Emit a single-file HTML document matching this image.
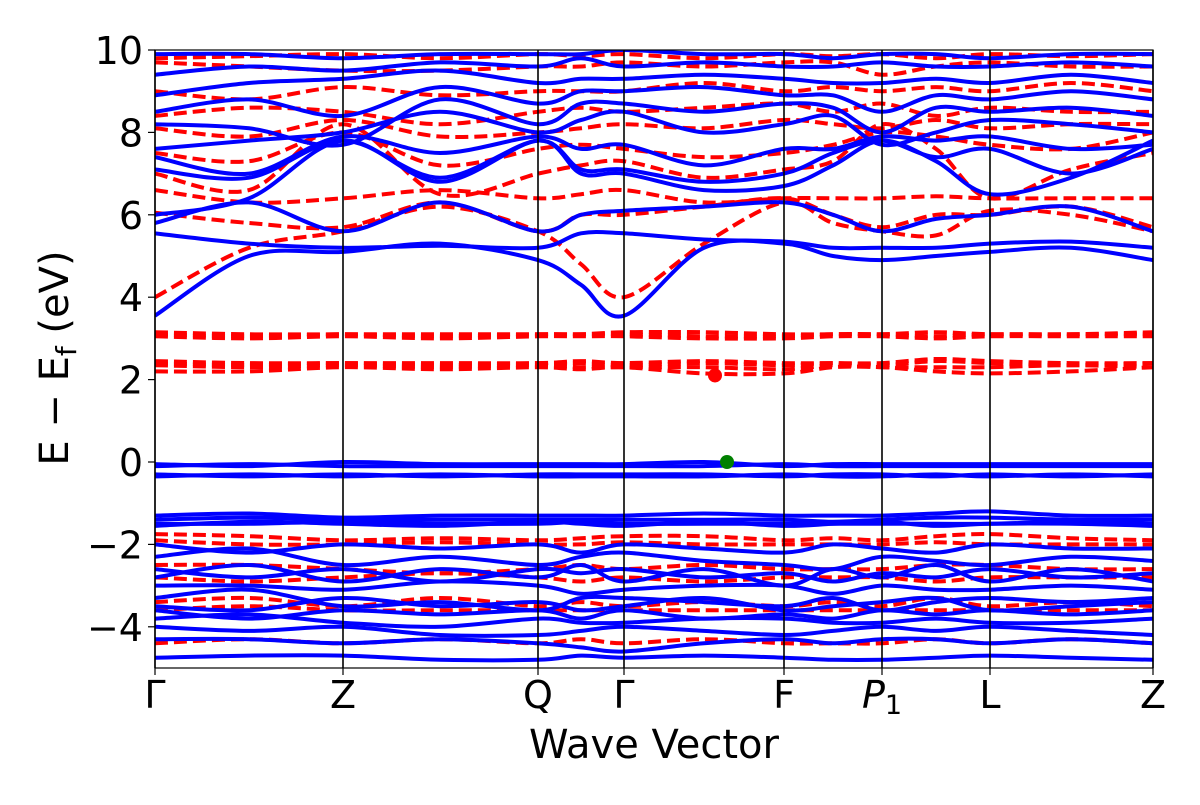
<!DOCTYPE html>
<html><head><meta charset="utf-8"><style>
body{margin:0;background:#fff;}
svg text{font-family:"DejaVu Sans","Liberation Sans",sans-serif;}
</style></head><body>
<svg id="chart" width="1200" height="800" viewBox="0 0 1200 800" xmlns="http://www.w3.org/2000/svg">
<defs><clipPath id="clip"><rect x="155" y="50" width="998" height="618"/></clipPath></defs>
<rect width="1200" height="800" fill="#fff"/>
<g id="bands" clip-path="url(#clip)"></g>
<g id="vlines"></g>
<rect x="155" y="50" width="998" height="618" fill="none" stroke="#000" stroke-width="1.2"/>
<g id="axes"></g>
<text x="654" y="758" font-size="40" text-anchor="middle">Wave Vector</text>
<text transform="translate(68,358) rotate(-90)" font-size="40" text-anchor="middle">E − E<tspan font-size="28" dy="8">f</tspan><tspan dy="-8"> (eV)</tspan></text>
</svg>
<script>
const kLabels=["Γ","Z","Q","Γ","F","P1","L","Z"];
const kTicks=[0,188,383,469,629,727,835,998];
const yTicks=[10,8,6,4,2,0,-2,-4];
const sampleK=[0,94,188,285,383,426,469,549,629,678,727,781,835,916,998];
const blueBands=[
[3.55,5.0,5.1,5.3,4.9,4.3,3.55,5.2,5.3,5.0,4.9,5.0,5.1,5.2,4.9],
[5.55,5.3,5.2,5.25,5.2,5.55,5.55,5.4,5.35,5.2,5.2,5.2,5.3,5.35,5.2],
[5.8,6.3,5.6,6.3,5.6,6.0,6.1,6.2,6.3,6.0,5.6,5.9,6.0,6.2,5.6],
[6.0,6.4,7.8,6.8,7.8,7.0,7.0,6.6,6.7,7.2,7.8,7.3,6.5,6.9,7.8],
[7.1,6.9,7.8,6.9,7.8,7.1,7.1,6.8,7.0,7.5,7.8,7.4,7.6,7.0,7.6],
[7.4,7.0,7.9,7.5,7.9,7.6,7.7,7.2,7.6,7.6,7.9,7.8,7.9,7.6,7.7],
[7.6,7.8,8.0,8.5,8.0,8.3,8.5,8.0,8.2,8.4,7.7,8.0,8.3,8.2,8.0],
[8.2,8.1,7.7,8.8,8.2,8.7,8.7,8.5,8.7,8.6,8.0,8.6,8.5,8.6,8.4],
[8.5,8.8,8.4,9.1,8.7,9.0,9.0,9.1,8.9,8.9,8.5,8.9,8.8,9.0,8.8],
[8.9,9.2,9.3,9.5,9.2,9.3,9.3,9.4,9.3,9.2,9.2,9.3,9.2,9.4,9.2],
[9.4,9.6,9.5,9.7,9.6,9.8,9.6,9.7,9.6,9.6,9.7,9.6,9.6,9.7,9.6],
[9.9,9.9,9.8,9.9,9.9,9.9,10,9.9,9.9,9.8,9.9,9.9,9.8,9.9,9.9],
[-0.05,-0.1,0.0,-0.05,-0.05,-0.05,-0.05,0.0,-0.1,-0.05,-0.05,-0.05,-0.05,-0.05,-0.05],
[-0.1,-0.05,-0.1,-0.1,-0.1,-0.1,-0.1,-0.1,-0.05,-0.1,-0.1,-0.1,-0.1,-0.1,-0.1],
[-0.3,-0.35,-0.3,-0.35,-0.3,-0.3,-0.3,-0.3,-0.35,-0.3,-0.3,-0.35,-0.3,-0.35,-0.3],
[-0.35,-0.3,-0.35,-0.3,-0.35,-0.35,-0.35,-0.35,-0.3,-0.35,-0.35,-0.3,-0.35,-0.3,-0.35],
[-1.3,-1.25,-1.35,-1.3,-1.3,-1.3,-1.3,-1.25,-1.3,-1.3,-1.3,-1.25,-1.2,-1.3,-1.3],
[-1.4,-1.35,-1.4,-1.4,-1.4,-1.4,-1.4,-1.4,-1.4,-1.45,-1.4,-1.35,-1.35,-1.4,-1.4],
[-1.5,-1.5,-1.45,-1.5,-1.5,-1.45,-1.5,-1.5,-1.5,-1.5,-1.5,-1.5,-1.5,-1.45,-1.5],
[-1.55,-1.45,-1.5,-1.55,-1.45,-1.5,-1.55,-1.45,-1.55,-1.5,-1.45,-1.55,-1.5,-1.5,-1.55],
[-2.0,-2.2,-2.0,-2.1,-2.0,-2.2,-2.0,-2.1,-2.2,-2.0,-2.1,-2.2,-2.0,-2.1,-2.1],
[-2.3,-2.1,-2.5,-2.3,-2.5,-2.3,-2.2,-2.4,-2.5,-2.6,-2.3,-2.4,-2.5,-2.3,-2.4],
[-2.6,-2.8,-2.6,-2.9,-2.6,-2.7,-2.6,-2.8,-2.7,-2.9,-2.7,-2.8,-2.6,-2.8,-2.7],
[-2.8,-2.5,-2.9,-2.6,-2.8,-2.5,-2.9,-2.6,-3.0,-2.6,-2.8,-2.5,-2.9,-2.6,-2.9],
[-3.0,-3.0,-3.1,-2.9,-3.0,-3.2,-3.1,-3.0,-3.0,-3.2,-3.0,-3.1,-3.1,-3.0,-3.1],
[-3.3,-3.1,-3.5,-3.4,-3.6,-3.3,-3.3,-3.4,-3.5,-3.3,-3.6,-3.4,-3.3,-3.4,-3.3],
[-3.5,-3.6,-3.3,-3.5,-3.4,-3.6,-3.5,-3.3,-3.6,-3.5,-3.4,-3.3,-3.6,-3.5,-3.4],
[-3.6,-3.8,-3.6,-3.7,-3.6,-3.8,-3.6,-3.8,-3.7,-3.8,-3.6,-3.7,-3.6,-3.7,-3.6],
[-3.8,-3.7,-3.9,-4.0,-3.8,-3.9,-3.9,-3.8,-3.8,-3.9,-3.9,-3.8,-3.9,-3.9,-3.8],
[-4.0,-4.1,-4.0,-4.2,-4.2,-4.1,-4.0,-4.1,-4.2,-4.1,-4.0,-4.1,-4.0,-4.1,-4.2],
[-4.3,-4.3,-4.4,-4.3,-4.4,-4.5,-4.6,-4.4,-4.3,-4.4,-4.3,-4.3,-4.4,-4.3,-4.4],
[-4.75,-4.7,-4.7,-4.8,-4.8,-4.7,-4.75,-4.7,-4.75,-4.8,-4.8,-4.75,-4.7,-4.75,-4.8]
];
const redBands=[
[4.0,5.2,5.6,6.2,5.6,4.8,4.0,5.3,6.3,5.8,5.6,5.5,6.1,6.0,5.6],
[6.05,5.8,5.7,6.3,5.6,6.0,6.0,6.2,6.4,6.0,5.7,6.0,6.0,6.2,5.7],
[6.6,6.3,6.4,6.6,6.4,6.5,6.6,6.3,6.4,6.4,6.4,6.45,6.4,6.4,6.4],
[7.0,6.6,8.2,6.5,7.0,7.2,7.3,6.9,7.1,7.3,8.2,7.6,6.4,7.1,7.5],
[7.5,7.3,8.0,7.2,7.6,7.7,7.6,7.4,7.5,7.7,8.0,7.9,7.7,7.6,8.0],
[8.1,7.9,8.3,7.9,8.0,8.1,8.2,8.1,8.3,8.2,8.1,8.3,8.1,8.2,8.2],
[8.4,8.6,8.5,8.2,8.5,8.6,8.5,8.6,8.7,8.5,8.7,8.4,8.6,8.5,8.5],
[9.0,8.8,9.1,8.9,9.0,9.0,9.0,9.2,9.0,9.1,9.0,9.1,9.0,9.2,9.0],
[9.7,9.6,9.5,9.5,9.6,9.6,9.7,9.6,9.7,9.7,9.4,9.6,9.7,9.6,9.6],
[9.8,9.85,9.9,9.8,9.9,9.85,9.9,9.8,9.9,9.85,9.9,9.8,9.9,9.85,9.9],
[3.15,3.1,3.1,3.1,3.1,3.1,3.15,3.15,3.1,3.1,3.1,3.15,3.1,3.1,3.15],
[3.1,3.05,3.1,3.05,3.1,3.1,3.1,3.05,3.05,3.1,3.1,3.05,3.1,3.1,3.1],
[3.05,3.0,3.05,3.0,3.05,3.05,3.05,3.0,3.0,3.05,3.05,3.0,3.05,3.05,3.05],
[2.45,2.4,2.4,2.4,2.4,2.45,2.4,2.45,2.4,2.4,2.4,2.5,2.45,2.4,2.4],
[2.4,2.35,2.4,2.35,2.4,2.4,2.35,2.4,2.35,2.4,2.35,2.45,2.4,2.35,2.4],
[2.35,2.3,2.35,2.3,2.35,2.3,2.3,2.3,2.25,2.35,2.3,2.3,2.3,2.35,2.3],
[2.2,2.2,2.3,2.25,2.3,2.25,2.3,2.15,2.15,2.3,2.3,2.2,2.15,2.2,2.3],
[-1.75,-1.8,-1.9,-1.85,-1.9,-1.85,-1.8,-1.8,-1.9,-1.85,-1.9,-1.8,-1.75,-1.85,-1.9],
[-1.9,-2.0,-2.0,-1.95,-2.0,-2.0,-1.95,-2.0,-2.0,-2.0,-2.0,-1.95,-2.0,-2.0,-2.0],
[-2.5,-2.5,-2.6,-2.7,-2.6,-2.5,-2.6,-2.5,-2.6,-2.6,-2.6,-2.5,-2.5,-2.6,-2.6],
[-2.8,-2.9,-2.8,-2.7,-2.8,-2.9,-2.8,-2.9,-2.8,-2.8,-2.8,-2.9,-2.8,-2.8,-2.8],
[-3.4,-3.3,-3.5,-3.3,-3.5,-3.4,-3.5,-3.4,-3.5,-3.4,-3.5,-3.3,-3.5,-3.4,-3.5],
[-3.6,-3.5,-3.6,-3.6,-3.6,-3.6,-3.6,-3.6,-3.6,-3.6,-3.6,-3.6,-3.6,-3.6,-3.6],
[-4.4,-4.3,-4.4,-4.3,-4.4,-4.3,-4.4,-4.3,-4.4,-4.4,-4.4,-4.3,-4.4,-4.3,-4.4]
];
const cbmPoint=[560,2.1];
const vbmPoint=[572,0.0];

const NS="http://www.w3.org/2000/svg";
const X0=155,X1=1153,Y0=50,Y1=668,KMAX=998,EMIN=-5,EMAX=10;
function xs(k){return X0+(X1-X0)*k/KMAX;}
function ys(e){return Y1-(Y1-Y0)*(e-EMIN)/(EMAX-EMIN);}
function mk(tag,attrs,parent){const el=document.createElementNS(NS,tag);for(const a in attrs)el.setAttribute(a,attrs[a]);parent.appendChild(el);return el;}
function pathFor(vals){
  const p=vals.map((v,i)=>[xs(sampleK[i]),ys(v)]);
  let d="M"+p[0][0].toFixed(1)+","+p[0][1].toFixed(1);
  for(let i=0;i<p.length-1;i++){
    const p0=p[Math.max(0,i-1)],p1=p[i],p2=p[i+1],p3=p[Math.min(p.length-1,i+2)];
    const c1x=p1[0]+(p2[0]-p0[0])/6,c1y=p1[1]+(p2[1]-p0[1])/6;
    const c2x=p2[0]-(p3[0]-p1[0])/6,c2y=p2[1]-(p3[1]-p1[1])/6;
    d+=" C"+c1x.toFixed(1)+","+c1y.toFixed(1)+" "+c2x.toFixed(1)+","+c2y.toFixed(1)+" "+p2[0].toFixed(1)+","+p2[1].toFixed(1);
  }
  return d;
}
const bg=document.getElementById('bands');
redBands.forEach((b,i)=>{
  const el=mk('path',{d:pathFor(b),fill:'none',stroke:'#ff0000','stroke-width':4,'stroke-dasharray':'13,6'},bg);
  
  
});
blueBands.forEach((b,i)=>{
  const el=mk('path',{d:pathFor(b),fill:'none',stroke:'#0000ff','stroke-width':4},bg);
  
  
});
const c1=mk('circle',{cx:xs(cbmPoint[0]),cy:ys(cbmPoint[1]),r:7,fill:'#ff0000'},bg);


const c2=mk('circle',{cx:xs(vbmPoint[0]),cy:ys(vbmPoint[1]),r:7,fill:'#008000'},bg);


const vl=document.getElementById('vlines');
kTicks.forEach((k,i)=>{
  const l=mk('line',{x1:xs(k),x2:xs(k),y1:Y0,y2:Y1,stroke:'#000','stroke-width':1.6},vl);
  
  
});
const ax=document.getElementById('axes');
yTicks.forEach(v=>{
  const t=mk('line',{x1:X0-7,x2:X0,y1:ys(v),y2:ys(v),stroke:'#000','stroke-width':1.2},ax);
  
  
  const tx=mk('text',{x:X0-12,y:ys(v)+14,'font-size':38,'text-anchor':'end'},ax);
  tx.textContent=(v<0?"−"+(-v):String(v));
  
  
});
kTicks.forEach((k,i)=>{
  const t=mk('line',{x1:xs(k),x2:xs(k),y1:Y1,y2:Y1+7,stroke:'#000','stroke-width':1.2},ax);
  
  
  const tx=mk('text',{x:xs(k),y:708,'font-size':38,'text-anchor':'middle'},ax);
  if(kLabels[i]==="P1"){
    const a=mk('tspan',{'font-style':'italic'},tx);a.textContent="P";
    const b=mk('tspan',{'font-size':27,dy:6},tx);b.textContent="1";
  } else tx.textContent=kLabels[i];
  
  
});
</script>
</body></html>
